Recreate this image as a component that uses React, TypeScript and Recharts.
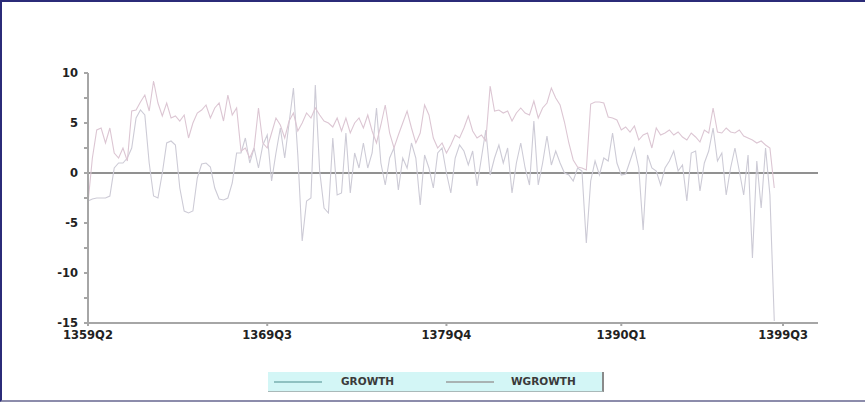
import { CartesianGrid, Line, LineChart, ReferenceLine, XAxis, YAxis } from 'recharts';

// quarterly values, starting at 1359Q2
const growth = [
  -2.8, -2.6, -2.5, -2.5, -2.5, -2.3, 0.5, 1.0, 1.0, 1.5,
  2.5, 5.5, 6.3, 5.8, 1.0, -2.3, -2.5, 0.0, 3.0, 3.2,
  2.8, -1.5, -3.8, -4.0, -3.8, -0.5, 0.9, 1.0, 0.6, -1.5,
  -2.6, -2.7, -2.5, -1.0, 2.0, 2.0, 3.5, 1.0, 2.5, 0.5,
  2.8, 3.8, -0.8, 2.0, 4.5, 1.5, 5.0, 8.5, 1.8, -6.8,
  -2.8, -2.5, 8.8, 0.2, -3.5, -4.0, 3.5, -2.2, -2.0, 4.0,
  -2.0, 2.0, 0.5, 3.0, 0.5, 2.0, 6.5, 1.0, -1.2, 1.5,
  2.5, -1.7, 1.5, 0.5, 3.0, 1.5, -3.2, 1.8, 0.5, -1.5,
  2.0, 2.5, 0.0, -2.0, 1.5, 2.8, 2.2, 0.8, 2.2, -1.3,
  1.5, 4.3, -0.2, 1.5, 2.8, 1.0, 2.5, -2.0, 1.0, 3.0,
  0.5, -1.2, 5.2, -1.2, 1.0, 3.7, 0.8, 2.2, 1.0, 0.0,
  -0.2, -0.8, 0.5, 0.2, -7.0, -0.8, 1.2, -0.2, 1.5, 1.2,
  4.0, 1.0, -0.2, -0.1, 1.2, 2.5, 0.5, -5.7, 1.8, 0.5,
  0.2, -1.2, 0.5, 1.2, 2.2, 0.2, 0.8, -2.8, 2.0, 2.2,
  -1.8, 1.0, 2.2, 4.5, 1.2, 2.0, -2.2, 0.5, 2.5, 0.2,
  -2.2, 1.8, -8.5, 1.2, -3.5, 2.5, -2.2, -14.8,
];

const wgrowth = [
  -3.0, 1.5, 4.3, 4.5, 3.0, 4.5, 2.0, 1.5, 2.5, 1.2,
  6.2, 6.3, 7.1, 7.8, 6.2, 9.2, 7.0, 5.7, 7.0, 5.5,
  5.7, 5.2, 5.8, 3.5, 5.0, 6.0, 6.3, 6.8, 5.5, 6.5,
  7.0, 5.2, 7.8, 5.8, 6.5, 2.2, 2.5, 1.5, 2.5, 6.5,
  3.0, 2.5, 4.0, 5.5, 4.8, 3.5, 5.2, 6.0, 4.2, 5.0,
  6.0, 5.5, 6.5, 5.8, 5.2, 5.0, 4.6, 5.5, 4.2, 5.5,
  4.0, 5.0, 5.5, 4.5, 5.8, 4.2, 3.0, 4.8, 6.8, 4.0,
  2.5, 3.8, 5.0, 6.2, 4.5, 3.0, 4.0, 6.8, 5.8, 3.5,
  2.5, 3.0, 2.0, 2.8, 3.8, 3.5, 4.5, 5.7, 4.2, 3.5,
  3.8, 3.2, 8.7, 6.2, 6.3, 6.0, 6.2, 5.2, 6.0, 6.5,
  6.0, 5.8, 7.2, 5.5, 6.5, 7.0, 8.5, 7.5, 6.8, 5.1,
  3.0, 1.3, 0.6, 0.5, 0.3, 6.9, 7.1, 7.1, 7.0, 5.6,
  5.5, 5.3, 4.3, 4.6, 4.1, 4.7, 3.3, 3.8, 4.0, 2.5,
  4.5, 3.8, 4.0, 4.3, 3.8, 4.1, 3.6, 3.3, 4.0, 3.6,
  3.1, 4.3, 4.0, 6.5, 4.1, 4.0, 4.5, 4.1, 4.0, 4.3,
  3.7, 3.5, 3.3, 3.0, 3.2, 2.8, 2.5, -1.5,
];

const tickQuarters = [0, 41, 82, 122, 159];
const tickLabels = ['1359Q2', '1369Q3', '1379Q4', '1390Q1', '1399Q3'];
const yTicks = [-15, -12.5, -10, -7.5, -5, -2.5, 0, 2.5, 5, 7.5, 10];

const data = growth.map((g, i) => ({ t: i, GROWTH: g, WGROWTH: wgrowth[i] }));

const font = { fontFamily: 'DejaVu Sans', fontWeight: 700, fontSize: 11.5, fill: '#222' };

export default function App() {
  return (
    <div
      style={{
        position: 'absolute',
        left: 0,
        top: 0,
        width: 865,
        height: 402,
        background: '#fff',
        borderTop: '2px solid #2b2b78',
        borderLeft: '2px solid #2b2b78',
        borderBottom: '2px solid #8c8cab',
        boxSizing: 'border-box',
        overflow: 'hidden',
      }}
    >
      <div style={{ position: 'absolute', left: -2, top: -2 }}>
        <LineChart width={865} height={402} data={data} margin={{ top: 73, right: 47, bottom: 49, left: 0 }}>
          <CartesianGrid vertical={false} horizontal={false} />
          <XAxis
            dataKey='t'
            type='number'
            domain={[0, 167]}
            ticks={tickQuarters}
            tickFormatter={(v: number) => tickLabels[tickQuarters.indexOf(v)] ?? ''}
            height={30}
            tickSize={3}
            tickMargin={5}
            stroke='#a6a6a6'
            strokeWidth={2}
            tick={font}
            interval={0}
          />
          <YAxis
            type='number'
            domain={[-15, 10]}
            ticks={yTicks}
            tickFormatter={(v: number) => (v % 5 === 0 ? String(v) : '')}
            width={88}
            tickSize={4}
            tickMargin={6}
            stroke='#a6a6a6'
            strokeWidth={2}
            tick={font}
            interval={0}
          />
          <ReferenceLine y={0} stroke='#919191' strokeWidth={2} />
          <Line
            dataKey='GROWTH'
            type='linear'
            stroke='#cdcbd6'
            strokeWidth={1.1}
            dot={false}
            isAnimationActive={false}
          />
          <Line
            dataKey='WGROWTH'
            type='linear'
            stroke='#dcc6d3'
            strokeWidth={1.1}
            dot={false}
            isAnimationActive={false}
          />
        </LineChart>
      </div>
      <div
        style={{
          position: 'absolute',
          left: 266,
          top: 370,
          width: 334,
          height: 19,
          background: '#d3f6f6',
          borderRight: '2px solid #8a8a8a',
          borderBottom: '1px solid #a9b9b9',
          fontFamily: 'DejaVu Sans',
          fontWeight: 700,
          fontSize: 10.5,
          color: '#3a3a3a',
        }}
      >
        <div style={{ position: 'absolute', left: 6, top: 9, width: 48, height: 1.5, background: '#8fc1c1' }} />
        <div style={{ position: 'absolute', left: 73, top: 3 }}>GROWTH</div>
        <div style={{ position: 'absolute', left: 178, top: 9, width: 48, height: 1.5, background: '#a9b3b3' }} />
        <div style={{ position: 'absolute', left: 243, top: 3 }}>WGROWTH</div>
      </div>
    </div>
  );
}
